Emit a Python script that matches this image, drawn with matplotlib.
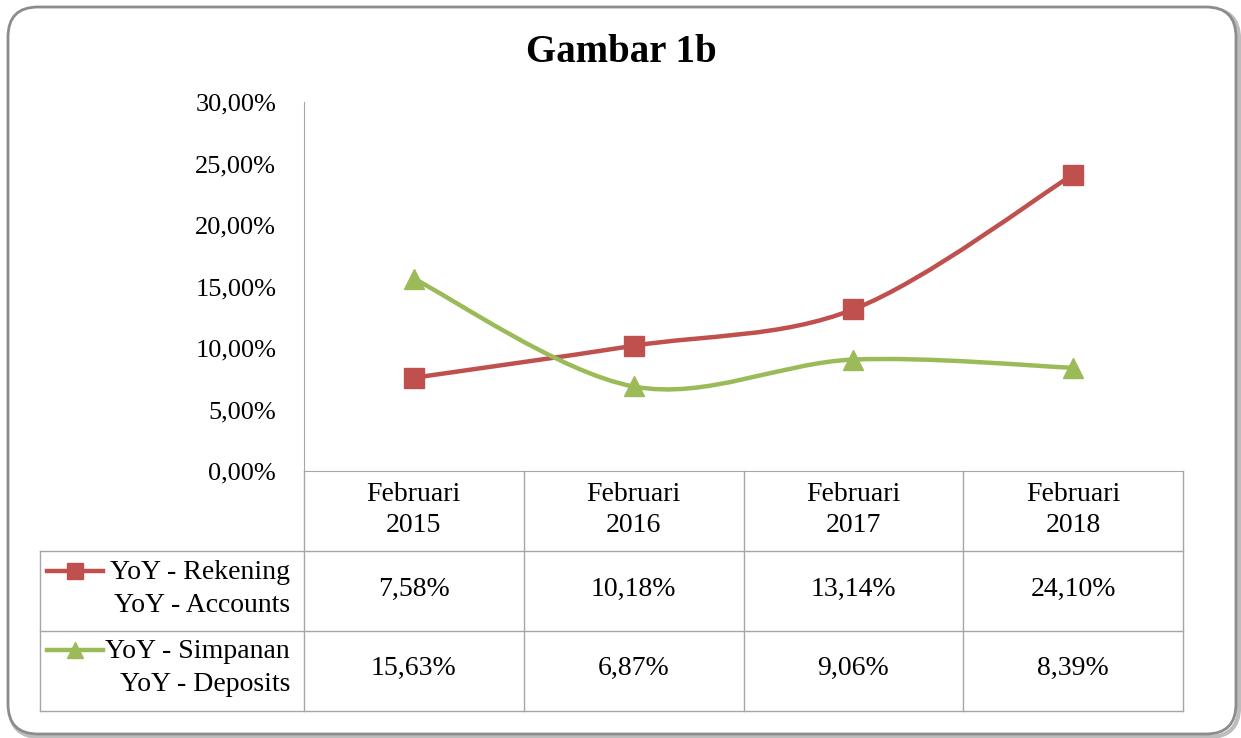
import matplotlib
matplotlib.use("Agg")
import matplotlib.pyplot as plt
from matplotlib.path import Path
from matplotlib.patches import PathPatch, FancyBboxPatch
from matplotlib.lines import Line2D
from matplotlib.transforms import blended_transform_factory
import numpy as np

plt.rcParams['font.family'] = ['Liberation Serif', 'DejaVu Serif']

# data
categories = ["Februari\n2015", "Februari\n2016", "Februari\n2017", "Februari\n2018"]
rekening = [7.58, 10.18, 13.14, 24.10]
simpanan = [15.63, 6.87, 9.06, 8.39]
rekening_labels = ["7,58%", "10,18%", "13,14%", "24,10%"]
simpanan_labels = ["15,63%", "6,87%", "9,06%", "8,39%"]
series_names = ["YoY - Rekening\nYoY - Accounts", "YoY - Simpanan\nYoY - Deposits"]
yticks = [0, 5, 10, 15, 20, 25, 30]

RED = "#C0504D"
GREEN = "#9BBB59"
GRID = "#a6a6a6"
W, H = 1241, 738
FS = 20

fig = plt.figure(figsize=(W / 100, H / 100), dpi=100)

# background axes in pixel units for the rounded frame
bg = fig.add_axes([0, 0, 1, 1])
bg.set_xlim(0, W)
bg.set_ylim(H, 0)
bg.axis("off")
bg.add_patch(FancyBboxPatch((10, 9), 1229, 728, boxstyle="round,pad=0,rounding_size=30",
                            fill=False, edgecolor="#bdbdbd", linewidth=3))
bg.add_patch(FancyBboxPatch((8, 7), 1228, 727, boxstyle="round,pad=0,rounding_size=30",
                            facecolor="white", edgecolor="#8c8c8c", linewidth=2))

ax = fig.add_axes([304 / W, (H - 471) / H, (1183 - 304) / W, (471 - 102) / H])
ax.set_xlim(-0.5, len(categories) - 0.5)
ax.set_ylim(0, 30)
ax.patch.set_alpha(0)
for s in ["top", "right"]:
    ax.spines[s].set_visible(False)
ax.spines["left"].set_color(GRID)
ax.spines["bottom"].set_color(GRID)
ax.set_xticks([])
ax.set_yticks(yticks)
ax.set_yticklabels([("%.2f%%" % v).replace(".", ",") for v in yticks], fontsize=19)
ax.tick_params(axis="y", length=0, pad=20)


def smooth_path(xs, ys):
    # excel-like smoothed line (catmull-rom as bezier)
    pts = np.column_stack([xs, ys]).astype(float)
    verts = [pts[0]]
    codes = [Path.MOVETO]
    n = len(pts)
    for i in range(n - 1):
        p0 = pts[max(i - 1, 0)]
        p1 = pts[i]
        p2 = pts[i + 1]
        p3 = pts[min(i + 2, n - 1)]
        c1 = p1 + (p2 - p0) / 6.0
        c2 = p2 - (p3 - p1) / 6.0
        verts += [c1, c2, p2]
        codes += [Path.CURVE4] * 3
    return Path(verts, codes)


x = np.arange(len(categories))
for vals, col, mk in [(rekening, RED, "s"), (simpanan, GREEN, "^")]:
    ax.add_patch(PathPatch(smooth_path(x, vals), fill=False, edgecolor=col,
                           linewidth=3.2, capstyle="round", zorder=2))
    ax.plot(x, vals, linestyle="none", marker=mk, color=col,
            markersize=14, zorder=3, clip_on=False)

fig.text(621 / W, 1 - 52 / H, "Gambar 1b", ha="center", va="center",
         fontsize=28, fontweight="bold")

# data table
bt = blended_transform_factory(ax.transData, fig.transFigure)
fy = lambda py: 1 - py / H
row_y = [471, 551, 631, 711]

for b in np.arange(len(categories) + 1) - 0.5:
    fig.add_artist(Line2D([b, b], [fy(471), fy(711)], transform=bt,
                          color=GRID, linewidth=1))
for py in row_y[1:]:
    fig.add_artist(Line2D([40 / W, 1183 / W], [fy(py), fy(py)],
                          transform=fig.transFigure, color=GRID, linewidth=1))
fig.add_artist(Line2D([40 / W, 40 / W], [fy(551), fy(711)],
                      transform=fig.transFigure, color=GRID, linewidth=1))

for i, c in enumerate(categories):
    fig.text(i, fy(510), c, transform=bt, ha="center", va="center",
             fontsize=FS, linespacing=1.35)

rows = [(rekening_labels, RED, "s", 589), (simpanan_labels, GREEN, "^", 668)]
for k, (labels, col, mk, py) in enumerate(rows):
    for i, lab in enumerate(labels):
        fig.text(i, fy(py), lab, transform=bt, ha="center", va="center", fontsize=FS)
    fig.text(290 / W, fy(py), series_names[k], ha="right", va="center",
             fontsize=FS, linespacing=1.4)
    ky = fy(py - 18)
    fig.add_artist(Line2D([47 / W, 103 / W], [ky, ky], transform=fig.transFigure,
                          color=col, linewidth=3.2))
    fig.add_artist(Line2D([75 / W], [ky], transform=fig.transFigure, color=col,
                          marker=mk, markersize=12, linestyle="none"))

fig.savefig("out.png", dpi=100)
